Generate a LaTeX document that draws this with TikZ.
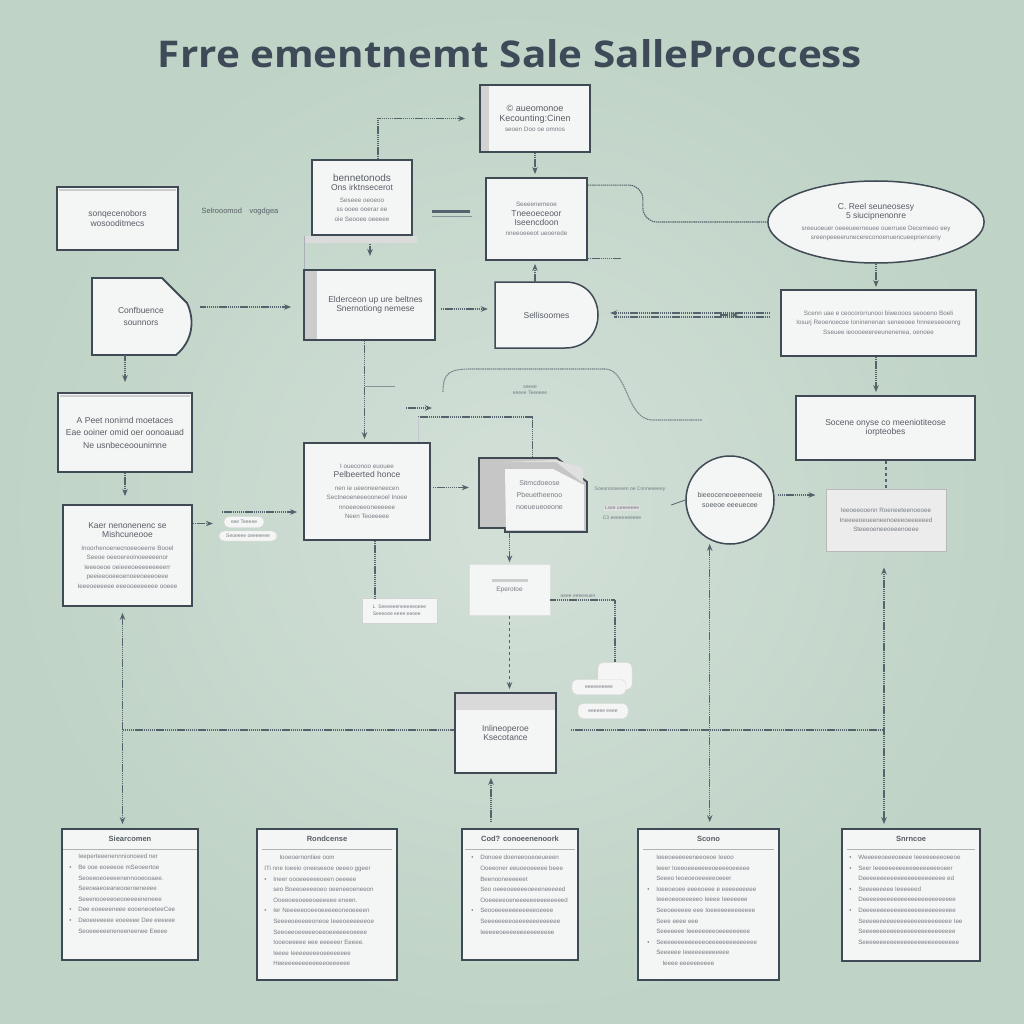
\documentclass[tikz,border=0pt]{standalone}
\usepackage{fontspec}
\usepackage{graphicx}
\setmainfont{Liberation Sans}
\newfontfamily\ttlfont{Open Sans}
\usetikzlibrary{arrows.meta,shapes.geometric,calc}
\definecolor{bgin}{HTML}{D3E0D8}
\definecolor{bgout}{HTML}{BFD3C6}
\definecolor{edge}{HTML}{3F4A54}
\definecolor{boxf}{HTML}{F4F5F5}
\definecolor{txtc}{HTML}{767C82}
\definecolor{hdc}{HTML}{575E65}
\definecolor{lnc}{HTML}{56626C}
\definecolor{ttl}{HTML}{3E4A57}
\newcommand\bodyf{\fontsize{6.3}{9.5}\selectfont}
\newcommand\hd[1]{{\fontsize{9}{10}\selectfont\color{hdc}#1}}
\newcommand\md[1]{{\fontsize{8.5}{10.5}\selectfont\color{hdc}#1}}
\newcommand\bigtx[1]{{\fontsize{10}{12}\selectfont\color{hdc}#1}}
\newcommand\jtx[1]{{\fontsize{8.6}{10.5}\selectfont\color{hdc}#1}}
\newcommand\bl[1]{\makebox[9pt][l]{\textbullet}#1}
\newcommand\nb[1]{\hspace*{9pt}#1}
\begin{document}
\begin{tikzpicture}[x=1pt,y=-1pt,
 bx/.style={draw=edge, line width=1.8pt, fill=boxf, inner sep=2pt, align=center, text=txtc, font=\bodyf},
 conn/.style={draw=lnc, line width=1.1pt, dash pattern=on 1.4pt off 0.7pt},
 arr/.style={conn, -{Stealth[length=7pt,width=5.5pt]}},
 arrs/.style={conn, {Stealth[length=7pt,width=5.5pt]}-{Stealth[length=7pt,width=5.5pt]}},
 pill/.style={draw=gray!30, fill=white!92!gray, rounded corners=5pt, inner sep=1pt, text=txtc, font=\fontsize{5}{6}\selectfont},
 btitle/.style={font=\fontsize{7.5}{9}\selectfont\bfseries, text=hdc},
 bbody/.style={font=\fontsize{6.2}{10.6}\selectfont, text=txtc, align=left, anchor=north west, inner sep=0pt},
 tinyt/.style={font=\fontsize{5}{6.5}\selectfont, text=txtc, align=center, inner sep=1pt}]
\useasboundingbox (0,0) rectangle (1024,1024);
\shade[inner color=bgin, outer color=bgout] (0,0) rectangle (1024,1024);

% title
\node[anchor=base, text=ttl] (title) at (510,68) {\resizebox{704pt}{28pt}{\ttlfont\bfseries Frre ementnemt Sale SalleProccess}};

% upper boxes
\node[bx, minimum width=110pt, minimum height=67pt] (A) at (535,118.5) {\hd{© aueomonoe}\\\hd{Kecounting:Cinen}\\[1pt]seoen Doo oe omnos};
\fill[gray!35] ([shift={(1.5pt,-1.5pt)}]A.north west) rectangle ([shift={(10pt,1.5pt)}]A.south west);

\node[bx, minimum width=121pt, minimum height=63pt] (B) at (117.5,218.5) {\md{sonqecenobors}\\\md{wosooditmecs}};
\draw[gray!40, line width=2pt] ([shift={(3pt,-4pt)}]B.north west) -- ([shift={(-3pt,-4pt)}]B.north east);
\node[font=\fontsize{7.5}{9}\selectfont, text=hdc] (lb) at (240,212) {Selrooomod\quad vogdgea};

\node[bx, minimum width=100pt, minimum height=75pt] (C) at (362,197.5) {\bigtx{bennetonods}\\\md{Ons irktnsecerot}\\[2pt]Seseee oeoeoo\\ss ooee ooerar ee\\oie Seooee oeeeee};
\fill[black!14] ([xshift=-6pt]C.south west) rectangle ([shift={(4pt,-7pt)}]C.south east);

\node[bx, minimum width=101pt, minimum height=82pt] (D) at (536.5,219) {Seeeenemeoe\\\md{Tneeoeceoor}\\\md{Iseencdoon}\\nneeoeeeot ueoerede};

\node[bx, ellipse, line width=1.5pt, minimum width=190pt, minimum height=82pt] (E) at (876,222) {\md{C. Reel seuneosesy}\\\md{5 siucipnenonre}\\[2pt]sreeuoeuer oeeeueerneuee ouerruee Decemeeo eey\\sreenpeeeerunecereconoenuencueeprienceny};

% F shape
\filldraw[draw=edge, line width=1.8pt, fill=boxf] (92,278) -- (162,278) -- (187,303) .. controls (195,320) and (193,341) .. (176,355) -- (92,355) -- cycle;
\node[minimum width=98pt, minimum height=77pt, align=center, text=txtc] (F) at (141,316.5) {\md{Confbuence}\\\md{sounnors}};

\node[bx, minimum width=131pt, minimum height=70pt] (G) at (369.5,305) {\hspace*{12pt}\md{Elderceon up ure beltnes}\\\hspace*{12pt}\md{Snernotiong nemese}};
\fill[gray!40] ([shift={(1.5pt,-1.5pt)}]G.north west) rectangle ([shift={(14pt,1.5pt)}]G.south west);

% H shape
\filldraw[draw=edge, line width=1.5pt, fill=boxf] (495,282) -- (565,282) .. controls (609,282) and (609,348) .. (565,348) -- (495,348) -- cycle;
\node[minimum width=103pt, minimum height=66pt, text=txtc] (H) at (546.5,315) {\md{Sellisoomes}};

\node[bx, minimum width=195pt, minimum height=66pt] (I) at (878.5,323) {Scenn uae e ceocororrunooi biweooos seooeno Boeli\\Iosurj Reoenoecoe Ioninenenan seneeoee hnneeseeoenrg\\Sseuee ieoooeeereeunenenea, oenoee};

\node[bx, minimum width=134pt, minimum height=79pt] (J) at (125,432.5) {\jtx{A Peet nonirnd moetaces}\\[3pt]\jtx{Eae ooiner omid oer oonoauad}\\[3pt]\jtx{Ne usnbeceoounimne}};
\draw[gray!40, line width=2pt] ([shift={(3pt,-4pt)}]J.north west) -- ([shift={(-3pt,-4pt)}]J.north east);

\node[bx, minimum width=126pt, minimum height=97pt] (K) at (367,491.5) {I oueconoo euouee\\\md{Pelbeerted honce}\\[3pt]nen ie ueeoneeneecen\\Sectneoeneeeooneoel Inoee\\nnoeeoeeoneeeeee\\Neen Teoeeeee};

% L document
\filldraw[draw=edge, line width=1.8pt, fill=gray!45] (479,458) -- (557,458) -- (587,482) -- (587,532) -- (505,532) -- (505,528) -- (479,528) -- cycle;
\fill[black!12] (505,462) -- (556,462) -- (583,483) -- (583,468) -- (556,460) -- cycle;
\fill[boxf] (505,469) -- (553,469) -- (584,485) -- (584,530) -- (506,530) -- cycle;
\node[minimum width=107pt, minimum height=74pt, align=center, text=txtc] (L) at (532.5,495) {\hspace*{14pt}\fontsize{7}{10}\selectfont Sitmcdoeose\\\hspace*{14pt}\fontsize{7}{10}\selectfont Pbeuetheenoo\\\hspace*{14pt}\fontsize{7}{10}\selectfont noeueueoeone};

\node[bx, circle, line width=1.5pt, minimum size=88pt] (M) at (730,500) {\fontsize{7}{10}\selectfont\color{hdc}bieeoceneoeeeneeie\\\fontsize{7}{10}\selectfont\color{hdc}soeeoe eeeuecee};

\node[bx, minimum width=179pt, minimum height=64pt] (N) at (885.5,428) {\md{Socene onyse co meeniotiteose}\\\md{iorpteobes}};

\node[draw=gray!55, line width=1pt, fill=white!85!gray, minimum width=120pt, minimum height=62pt, align=center, text=txtc, font=\bodyf] (O) at (886,520) {Ieeoeeooenn Roeneeteenoeoee\\Ineeeeoeueeneenoeeeoeeeeeed\\Steeeoeneeoeeenoeee};

\node[bx, minimum width=129pt, minimum height=101pt] (P) at (127.5,555.5) {\md{Kaer nenonenenc se}\\\md{Mishcuneooe}\\[3pt]Inoorhenoenecnoeeoeerre Booel\\Seeoe oeeoereoinoeeeeenor\\Ieeeoeoe oeieeeoeeeeeeeeerr\\peeieeooeeoenoeeoeeeoeee\\Ieeeoeeeeee eeeooeeeeeee ooeee};

\node[fill=boxf, draw=gray!25, minimum width=81pt, minimum height=51pt, text=txtc, font=\fontsize{6.5}{8}\selectfont] (Q) at (509.5,590) {\raisebox{-5pt}{Eperotoe}};
\fill[gray!40] ($(Q.center)+(-18,-11)$) rectangle ++(36,3);

\node[draw=gray!35, fill=boxf, minimum width=75pt, minimum height=25pt, tinyt, align=left] (labK) at (399.5,610.5) {L\ \ Seeeeeeneeeeeoeee\\Seeeoee eeee eeoee};

\node[bx, minimum width=101pt, minimum height=80pt] (R) at (505.5,733) {\raisebox{-6pt}{\parbox{90pt}{\centering\md{Inlineoperoe}\\\md{Ksecotance}}}};
\fill[gray!30] ([shift={(1.5pt,-1.5pt)}]R.north west) rectangle ([shift={(-1.5pt,-18pt)}]R.north east);

% small labels / pills
\node[pill, minimum width=40pt, minimum height=11pt] (lp1) at (244,522) {oee Teeeee};
\node[pill, minimum width=58pt, minimum height=10pt] (lp2) at (248,536) {Seoeeee oeeeeeee};
\node[tinyt] (lbc) at (530,390) {seeee\\eeeee Teeeeee};
\node[tinyt] (ll1) at (630,489) {Soeononeeeen oe Cnnneeeeey};
\node[tinyt, fill=gray!25] (ll2) at (622,508) {Lsee ueeeeeee};
\node[tinyt] (ll3) at (622,518) {C3 eeeeeeeeeee};
\node[tinyt] (lq) at (578,596) {oeee eeeeeuen};
\node[pill, minimum width=34pt, minimum height=27pt] (pb) at (615,676) {};
\node[pill, minimum width=54pt, minimum height=15pt] (pb2) at (599,687) {eeeeeeeeee};
\node[pill, minimum width=50pt, minimum height=15pt] (pb3) at (603,711) {eeeeee eeee};

% bottom boxes
\node[bx, minimum width=136pt, minimum height=131pt] (S1) at (130,894.5) {};
\node[btitle] (S1t) at ([yshift=-11pt]S1.north) {Siearcomen};
\draw[gray!60, line width=1.2pt] ([shift={(2pt,-21pt)}]S1.north west) -- ([shift={(-2pt,-21pt)}]S1.north east);
\node[bbody] (S1b) at ([shift={(8pt,-26pt)}]S1.north west) {\nb{Ieeperteeenennnionoeed ner}\\\bl{Be ooe eoeeeoe mSeoeertoe}\\\nb{Seoeeoeoeeeenennooeooaee.}\\\nb{Seeoeaeoeaneooeroeneeee}\\\nb{Seeenooeeeoeooeeeeneneee}\\\bl{Dee eoeeeeneee eooeneoeteeCee}\\\bl{Deoeeeeeee eoeeeee Dee eeeeee}\\\nb{Seoeeeeeeneneeneenee Eeeee}};

\node[bx, minimum width=140pt, minimum height=151pt] (S2) at (327,904.5) {};
\node[btitle] (S2t) at ([yshift=-11pt]S2.north) {Rondcense};
\draw[gray!60, line width=1.2pt] ([shift={(6pt,-21pt)}]S2.north west) -- ([shift={(-6pt,-21pt)}]S2.north east);
\node[bbody] (S2b) at ([shift={(8pt,-27pt)}]S2.north west) {\nb{\quad Iooeoernontiee oom}\\ITi nne Ioeeio oneeseeoe oeeeo ggeer\\\bl{Ineer oooeeeeeeoeen oeeeee}\\\nb{seo Boeeoeeeeoeo oeeneeoeneeon}\\\nb{Ooeeoeeoeeeoeeeeee eneen.}\\\bl{Ier Neeeeeooeeoeeeeeoneoeeeen}\\\nb{Seeeeoeeeeeoneoe Ieeeoeeeeeeoe}\\\nb{Seeoeeoeeeeeoeeoeeeeeeoeeee}\\\nb{Iooeoeeeee eee eeeeeer Eeeee.}\\\nb{Ieeee Ieeeeeeeeoeeeeeeee}\\\nb{Heeeeeeeeeeeeeeoeeeeee}};

\node[bx, minimum width=116pt, minimum height=131pt] (S3) at (520,894.5) {};
\node[btitle] (S3t) at ([yshift=-11pt]S3.north) {Cod? conoeenenoork};
\draw[gray!60, line width=1.2pt] ([shift={(4pt,-21pt)}]S3.north west) -- ([shift={(-4pt,-21pt)}]S3.north east);
\node[bbody] (S3b) at ([shift={(10pt,-27pt)}]S3.north west) {\bl{Donoee doeneeooeoeueeen}\\\nb{Ooeeoner eeuoeoeeeee beee}\\\nb{Beenooneeeeeet}\\\nb{Seo oeeeoeeeeeoeeeneeeeed}\\\nb{Ooeeeeeoeneeeeeeeeeeeeeed}\\\bl{Seooeeeeeeeeeeeeoeeee}\\\nb{Seeeeeeeeoeeeeeeeeeeeee}\\\nb{Ieeeeeoeeeeeeeeeeeeeee}};

\node[bx, minimum width=141pt, minimum height=151pt] (S4) at (708.5,904.5) {};
\node[btitle] (S4t) at ([yshift=-11pt]S4.north) {Scono};
\draw[gray!60, line width=1.2pt] ([shift={(6pt,-21pt)}]S4.north west) -- ([shift={(-6pt,-21pt)}]S4.north east);
\node[bbody] (S4b) at ([shift={(10pt,-27pt)}]S4.north west) {\nb{Ieeeoeeeeeeneeoeoe Ieeoo}\\\nb{Ieeer Ioeeoeeeeeeeoeeeeoeeeee}\\\nb{Seeeo Ieoeoeoeeeeeoeeer}\\\bl{Ioeeoeoee eeeeoeee e eeeeeeeeee}\\\nb{Ieeeoeeoeeeeeo Ieeee Ieeeeeee}\\\nb{Seeoeeeeee eee Ioeeeeeeeeeeeee}\\\nb{Seee eeee eee}\\\nb{Seeeeeee Ieeeeeeeeoeeeeeeeee}\\\bl{Seeeeeeeeeeeeeoeeeeeeeeeeeeee}\\\nb{Seeeeee Ieeeeeeeeeeeee}\\\nb{\quad Ieeee eeeeeeeeee}};

\node[bx, minimum width=138pt, minimum height=132pt] (S5) at (911,895) {};
\node[btitle] (S5t) at ([yshift=-11pt]S5.north) {Snrncoe};
\draw[gray!60, line width=1.2pt] ([shift={(6pt,-21pt)}]S5.north west) -- ([shift={(-6pt,-21pt)}]S5.north east);
\node[bbody] (S5b) at ([shift={(8pt,-27pt)}]S5.north west) {\bl{Weeeeeoeeeoeeee Ieeeeeeeeoeeoe}\\\bl{Seer Ieeeeeeeeeeeeeeeeeeeoeer}\\\nb{Deeeeeeeeeeeeeeeeeeeeeeee ed}\\\bl{Seeeeeeeee Ieeeeeed}\\\nb{Deeeeeeeeeeeeeeeeeeeeeeeeeee}\\\bl{Deeeeeeeeeeeeeeeeeeeeeeeeeee}\\\nb{Seeeeeeeeeeeeeeeeeeeeeeeeee Iee}\\\nb{Seeeeeeeeeeeeeeeeeeeeeeeeeee}\\\nb{Seeeeeeeeeeeeeeeeeeeeeeeeeeee}};

% connectors
\draw[arr] ([xshift=16pt]C.north) |- ($(A.west)+(-14,0)$);
\draw[arr, shorten >=3pt] (A.south) -- (A.south |- D.north);
\draw[arr, shorten >=3pt] (A.south |- H.north) -- (A.south |- D.south);
\draw[conn, rounded corners=14pt] ([yshift=-8pt]D.north east) -- ++(55,0) |- (E.west);
\draw[conn] ([yshift=2pt]D.south east) -- ++(33,0);
\draw[line width=0.6pt, lnc!50] ([xshift=-7pt]C.south west) -- ([xshift=1pt]G.north west);
\coordinate (v1) at (370,244);
\draw[arr] (v1) -- ++(0,12);
\coordinate (bar) at (432,212);
\draw[line width=3pt, lnc] (bar) -- ++(38,0);
\draw[line width=0.8pt, lnc!70] ($(bar)+(0,4)$) -- ++(40,0);
\draw[arr, shorten >=12pt, shorten <=10pt] ([yshift=-2pt]F.east |- G.west) -- ([yshift=-2pt]G.west);
\draw[arr, shorten >=7pt, shorten <=5pt] ([yshift=-4pt]G.east) -- ([yshift=-4pt]G.east -| H.west);
\draw[arr, shorten <=10pt, shorten >=12pt] ([yshift=10pt]I.west) -- ([yshift=10pt]I.west -| H.east);
\draw[conn, shorten <=10pt, shorten >=16pt] ([yshift=6pt]I.west) -- ([yshift=6pt]I.west -| H.east);
\draw[arr] ([shift={(-60pt,8pt)}]I.west) -- ++(18,0);
\draw[arr, shorten >=2pt] (E.south) -- (E.south |- I.north);
\draw[arr, shorten >=3pt] (E.south |- I.south) -- (E.south |- N.north);
\draw[conn, dashed] (N.south -| O.north) -- (O.north);
\draw[arrs, shorten <=16pt, shorten >=4pt] ([xshift=-2pt]O.south) -- ([xshift=-2pt]O.south |- S5.north);
\draw[arr, shorten >=10pt] (J.north |- F.south) -- (J.north);
\draw[arr, shorten >=8pt] (J.south) -- (J.south |- P.north);
\draw[arrs, shorten <=6pt, shorten >=4pt] ([xshift=-5pt]P.south) -- ([xshift=-5pt]P.south |- S1.north);
\draw[conn] ([xshift=-5pt,yshift=3pt]P.south |- R.west) -- ([yshift=3pt]R.west);
\draw[conn] ([xshift=14pt,yshift=3pt]R.east) -- ([xshift=-2pt,yshift=3pt]O.south |- R.east);
\draw[arrs, shorten <=4pt, shorten >=6pt] (M.243) -- (M.243 |- S4.north);
\draw[arr, shorten >=3pt] ([xshift=-5pt]G.south) -- ([xshift=-5pt]G.south |- K.north);
\draw[lnc!70, line width=0.8pt] ($(G.south)+(-5,45)$) -- ++(30,0);
\coordinate (lp) at (418,417);
\draw[conn] (lp) -| (L.north);
\draw[lnc!35, line width=0.6pt] (lp) -- ++(0,25);
\coordinate (la) at (406,408);
\draw[arr] (la) -- ++(26,0);
\coordinate (cv1) at (443,392);
\coordinate (cv2) at (702,420);
\draw[conn, lnc!80] (cv1) .. controls (443,372) and (450,369) .. (472,369) -- (605,369) .. controls (628,369) and (626,419) .. (652,420) -- (cv2);
\draw[arr, shorten <=2pt, shorten >=10pt] ([yshift=4pt]K.east) -- ([yshift=4pt]K.east -| L.west);
\draw[lnc, line width=0.8pt] ([xshift=-14pt,yshift=-5pt]M.west) -- (M.west);
\draw[arr, shorten >=10pt, shorten <=3pt] ([yshift=5pt]M.east) -- ([yshift=5pt]M.east -| O.west);
\draw[arr] ([yshift=32pt]P.east) -- ++(20,0);
\coordinate (lpA) at (222,512);
\draw[arr, shorten >=6pt] (lpA) -- (lpA -| K.west);
\draw[conn] ([xshift=8pt]K.south) -- ([xshift=8pt]K.south |- labK.north);
\draw[arr, shorten >=2pt] (Q.north |- L.south) -- (Q.north);
\draw[arr, dashed, shorten >=3pt] (Q.south) -- (Q.south |- R.north);
\draw[conn] ([yshift=-10pt]Q.east) -| (pb.north);
\coordinate (rb) at (491,822);
\draw[arr, shorten >=4pt] (rb) -- (rb |- R.south);
\end{tikzpicture}
\end{document}
